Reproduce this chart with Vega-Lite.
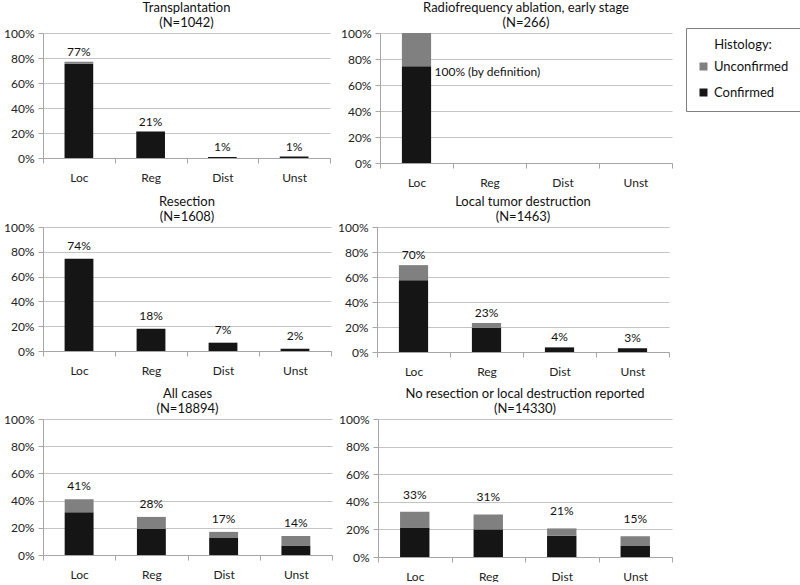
{
  "$schema": "https://vega.github.io/schema/vega-lite/v6.json",
  "padding": {"left": 0, "top": 2, "right": 0, "bottom": 0},
  "background": "white",
  "datasets": {
    "bars": [
      {"panel": "Transplantation", "stage": "Loc", "status": "Confirmed", "value": 75.5},
      {"panel": "Transplantation", "stage": "Loc", "status": "Unconfirmed", "value": 1.5},
      {"panel": "Transplantation", "stage": "Reg", "status": "Confirmed", "value": 21.2},
      {"panel": "Transplantation", "stage": "Dist", "status": "Confirmed", "value": 0.8},
      {"panel": "Transplantation", "stage": "Unst", "status": "Confirmed", "value": 1.2},
      {"panel": "RFA", "stage": "Loc", "status": "Confirmed", "value": 74.5},
      {"panel": "RFA", "stage": "Loc", "status": "Unconfirmed", "value": 25.5},
      {"panel": "Resection", "stage": "Loc", "status": "Confirmed", "value": 74.3},
      {"panel": "Resection", "stage": "Reg", "status": "Confirmed", "value": 18},
      {"panel": "Resection", "stage": "Dist", "status": "Confirmed", "value": 6.7},
      {"panel": "Resection", "stage": "Unst", "status": "Confirmed", "value": 1.9},
      {"panel": "Local", "stage": "Loc", "status": "Confirmed", "value": 57.5},
      {"panel": "Local", "stage": "Loc", "status": "Unconfirmed", "value": 12},
      {"panel": "Local", "stage": "Reg", "status": "Confirmed", "value": 19.5},
      {"panel": "Local", "stage": "Reg", "status": "Unconfirmed", "value": 3.7},
      {"panel": "Local", "stage": "Dist", "status": "Confirmed", "value": 3.7},
      {"panel": "Local", "stage": "Unst", "status": "Confirmed", "value": 3},
      {"panel": "All", "stage": "Loc", "status": "Confirmed", "value": 31.4},
      {"panel": "All", "stage": "Loc", "status": "Unconfirmed", "value": 9.6},
      {"panel": "All", "stage": "Reg", "status": "Confirmed", "value": 19.4},
      {"panel": "All", "stage": "Reg", "status": "Unconfirmed", "value": 8.6},
      {"panel": "All", "stage": "Dist", "status": "Confirmed", "value": 12.5},
      {"panel": "All", "stage": "Dist", "status": "Unconfirmed", "value": 4.5},
      {"panel": "All", "stage": "Unst", "status": "Confirmed", "value": 6.9},
      {"panel": "All", "stage": "Unst", "status": "Unconfirmed", "value": 7.1},
      {"panel": "None", "stage": "Loc", "status": "Confirmed", "value": 21.4},
      {"panel": "None", "stage": "Loc", "status": "Unconfirmed", "value": 11.4},
      {"panel": "None", "stage": "Reg", "status": "Confirmed", "value": 20},
      {"panel": "None", "stage": "Reg", "status": "Unconfirmed", "value": 10.8},
      {"panel": "None", "stage": "Dist", "status": "Confirmed", "value": 15.4},
      {"panel": "None", "stage": "Dist", "status": "Unconfirmed", "value": 5.3},
      {"panel": "None", "stage": "Unst", "status": "Confirmed", "value": 8},
      {"panel": "None", "stage": "Unst", "status": "Unconfirmed", "value": 7}
    ],
    "labels": [
      {"panel": "Transplantation", "stage": "Loc", "pct": 77, "label": "77%"},
      {"panel": "Transplantation", "stage": "Reg", "pct": 21.2, "label": "21%"},
      {"panel": "Transplantation", "stage": "Dist", "pct": 0.8, "label": "1%"},
      {"panel": "Transplantation", "stage": "Unst", "pct": 1.2, "label": "1%"},
      {"panel": "RFA", "stage": "Loc", "pct": 74.5, "label": "100% (by definition)"},
      {"panel": "Resection", "stage": "Loc", "pct": 74.3, "label": "74%"},
      {"panel": "Resection", "stage": "Reg", "pct": 18, "label": "18%"},
      {"panel": "Resection", "stage": "Dist", "pct": 6.7, "label": "7%"},
      {"panel": "Resection", "stage": "Unst", "pct": 1.9, "label": "2%"},
      {"panel": "Local", "stage": "Loc", "pct": 69.5, "label": "70%"},
      {"panel": "Local", "stage": "Reg", "pct": 23.2, "label": "23%"},
      {"panel": "Local", "stage": "Dist", "pct": 3.7, "label": "4%"},
      {"panel": "Local", "stage": "Unst", "pct": 3, "label": "3%"},
      {"panel": "All", "stage": "Loc", "pct": 41, "label": "41%"},
      {"panel": "All", "stage": "Reg", "pct": 28, "label": "28%"},
      {"panel": "All", "stage": "Dist", "pct": 17, "label": "17%"},
      {"panel": "All", "stage": "Unst", "pct": 14, "label": "14%"},
      {"panel": "None", "stage": "Loc", "pct": 32.8, "label": "33%"},
      {"panel": "None", "stage": "Reg", "pct": 30.8, "label": "31%"},
      {"panel": "None", "stage": "Dist", "pct": 20.7, "label": "21%"},
      {"panel": "None", "stage": "Unst", "pct": 15, "label": "15%"}
    ]
  },
  "config": {
    "font": "Lato",
    "view": {"stroke": null},
    "title": {"fontSize": 13, "fontWeight": "normal", "color": "#111111", "lineHeight": 15, "offset": -3, "font": "Lato"},
    "axis": {"labelFont": "Lato", "labelFontSize": 12, "labelColor": "#222222", "domainColor": "#a6a6a6", "tickColor": "#a6a6a6", "gridColor": "#c4c4c4"},
    "axisX": {"tickBand": "extent", "tickSize": 5, "labelPadding": 9, "labelAngle": 0, "grid": false},
    "axisY": {"tickSize": 5, "labelPadding": 4, "values": [0, 20, 40, 60, 80, 100], "labelExpr": "datum.value + '%'", "grid": true},
    "text": {"font": "Lato", "fontSize": 12, "color": "#111111"},
    "legend": {
      "orient": "none", "legendX": 643, "legendY": -5,
      "strokeColor": "#7f7f7f", "padding": 11, "titleAnchor": "middle",
      "titleFontSize": 13, "titleFontWeight": "normal", "titleColor": "#111111", "titleFont": "Lato",
      "labelFontSize": 13, "labelColor": "#111111", "labelFont": "Lato",
      "symbolType": "square", "symbolSize": 64, "symbolStrokeWidth": 0, "rowPadding": 12, "titlePadding": 8
    }
  },
  "spacing": 8,
  "vconcat": [
    {
      "spacing": 9,
      "hconcat": [
        {
          "title": {"text": ["Transplantation", "(N=1042)"]},
          "width": 287, "height": 125,
          "layer": [
            {
              "data": {"name": "bars"},
              "transform": [{"filter": "datum.panel === 'Transplantation'"}],
              "mark": {"type": "bar", "width": {"band": 0.4}},
              "encoding": {
                "x": {"field": "stage", "type": "nominal", "title": null, "scale": {"domain": ["Loc", "Reg", "Dist", "Unst"], "paddingInner": 0, "paddingOuter": 0}},
                "y": {"field": "value", "type": "quantitative", "stack": "zero", "title": null, "scale": {"domain": [0, 100]}, "axis": {"minExtent": 40}},
                "color": {"field": "status", "type": "nominal", "title": "Histology:", "scale": {"domain": ["Unconfirmed", "Confirmed"], "range": ["#808080", "#151515"]}},
                "order": {"field": "status", "sort": "ascending"}
              }
            },
            {
              "data": {"name": "labels"},
              "transform": [{"filter": "datum.panel === 'Transplantation'"}],
              "mark": {"type": "text", "baseline": "bottom", "dy": -3},
              "encoding": {
                "x": {"field": "stage", "type": "nominal", "title": null, "scale": {"domain": ["Loc", "Reg", "Dist", "Unst"], "paddingInner": 0, "paddingOuter": 0}},
                "y": {"field": "pct", "type": "quantitative", "title": null},
                "text": {"field": "label"}
              }
            }
          ]
        },
        {
          "title": {"text": ["Radiofrequency ablation, early stage", "(N=266)"]},
          "width": 292, "height": 130,
          "layer": [
            {
              "data": {"name": "bars"},
              "transform": [{"filter": "datum.panel === 'RFA'"}],
              "mark": {"type": "bar", "width": {"band": 0.4}},
              "encoding": {
                "x": {"field": "stage", "type": "nominal", "title": null, "scale": {"domain": ["Loc", "Reg", "Dist", "Unst"], "paddingInner": 0, "paddingOuter": 0}},
                "y": {"field": "value", "type": "quantitative", "stack": "zero", "title": null, "scale": {"domain": [0, 100]}, "axis": {"minExtent": 36}},
                "color": {"field": "status", "type": "nominal", "title": "Histology:"},
                "order": {"field": "status", "sort": "ascending"}
              }
            },
            {
              "data": {"name": "labels"},
              "transform": [{"filter": "datum.panel === 'RFA'"}],
              "mark": {"type": "text", "baseline": "top", "align": "left", "dx": 18, "dy": 1},
              "encoding": {
                "x": {"field": "stage", "type": "nominal", "title": null, "scale": {"domain": ["Loc", "Reg", "Dist", "Unst"], "paddingInner": 0, "paddingOuter": 0}},
                "y": {"field": "pct", "type": "quantitative", "title": null},
                "text": {"field": "label"}
              }
            }
          ]
        }
      ]
    },
    {
      "spacing": 11,
      "vconcat": [
        {
          "spacing": 5,
          "hconcat": [
            {
              "title": {"text": ["Resection", "(N=1608)"]},
              "width": 288, "height": 124,
              "layer": [
                {
                  "data": {"name": "bars"},
                  "transform": [{"filter": "datum.panel === 'Resection'"}],
                  "mark": {"type": "bar", "width": {"band": 0.4}},
                  "encoding": {
                    "x": {"field": "stage", "type": "nominal", "title": null, "scale": {"domain": ["Loc", "Reg", "Dist", "Unst"], "paddingInner": 0, "paddingOuter": 0}},
                    "y": {"field": "value", "type": "quantitative", "stack": "zero", "title": null, "scale": {"domain": [0, 100]}, "axis": {"minExtent": 43}},
                    "color": {"field": "status", "type": "nominal", "title": "Histology:"},
                    "order": {"field": "status", "sort": "ascending"}
                  }
                },
                {
                  "data": {"name": "labels"},
                  "transform": [{"filter": "datum.panel === 'Resection'"}],
                  "mark": {"type": "text", "baseline": "bottom", "dy": -6},
                  "encoding": {
                    "x": {"field": "stage", "type": "nominal", "title": null, "scale": {"domain": ["Loc", "Reg", "Dist", "Unst"], "paddingInner": 0, "paddingOuter": 0}},
                    "y": {"field": "pct", "type": "quantitative", "title": null},
                    "text": {"field": "label"}
                  }
                }
              ]
            },
            {
              "title": {"text": ["Local tumor destruction", "(N=1463)"]},
              "width": 292, "height": 125,
              "layer": [
                {
                  "data": {"name": "bars"},
                  "transform": [{"filter": "datum.panel === 'Local'"}],
                  "mark": {"type": "bar", "width": {"band": 0.4}},
                  "encoding": {
                    "x": {"field": "stage", "type": "nominal", "title": null, "scale": {"domain": ["Loc", "Reg", "Dist", "Unst"], "paddingInner": 0, "paddingOuter": 0}},
                    "y": {"field": "value", "type": "quantitative", "stack": "zero", "title": null, "scale": {"domain": [0, 100]}, "axis": {"minExtent": 36}},
                    "color": {"field": "status", "type": "nominal", "title": "Histology:"},
                    "order": {"field": "status", "sort": "ascending"}
                  }
                },
                {
                  "data": {"name": "labels"},
                  "transform": [{"filter": "datum.panel === 'Local'"}],
                  "mark": {"type": "text", "baseline": "bottom", "dy": -3},
                  "encoding": {
                    "x": {"field": "stage", "type": "nominal", "title": null, "scale": {"domain": ["Loc", "Reg", "Dist", "Unst"], "paddingInner": 0, "paddingOuter": 0}},
                    "y": {"field": "pct", "type": "quantitative", "title": null},
                    "text": {"field": "label"}
                  }
                }
              ]
            }
          ]
        },
        {
          "spacing": 5,
          "hconcat": [
            {
              "title": {"text": ["All cases", "(N=18894)"]},
              "width": 289, "height": 136,
              "layer": [
                {
                  "data": {"name": "bars"},
                  "transform": [{"filter": "datum.panel === 'All'"}],
                  "mark": {"type": "bar", "width": {"band": 0.4}},
                  "encoding": {
                    "x": {"field": "stage", "type": "nominal", "title": null, "scale": {"domain": ["Loc", "Reg", "Dist", "Unst"], "paddingInner": 0, "paddingOuter": 0}},
                    "y": {"field": "value", "type": "quantitative", "stack": "zero", "title": null, "scale": {"domain": [0, 100]}, "axis": {"minExtent": 36}},
                    "color": {"field": "status", "type": "nominal", "title": "Histology:"},
                    "order": {"field": "status", "sort": "ascending"}
                  }
                },
                {
                  "data": {"name": "labels"},
                  "transform": [{"filter": "datum.panel === 'All'"}],
                  "mark": {"type": "text", "baseline": "bottom", "dy": -6},
                  "encoding": {
                    "x": {"field": "stage", "type": "nominal", "title": null, "scale": {"domain": ["Loc", "Reg", "Dist", "Unst"], "paddingInner": 0, "paddingOuter": 0}},
                    "y": {"field": "pct", "type": "quantitative", "title": null},
                    "text": {"field": "label"}
                  }
                }
              ]
            },
            {
              "title": {"text": ["No resection or local destruction reported", "(N=14330)"]},
              "width": 294, "height": 138,
              "layer": [
                {
                  "data": {"name": "bars"},
                  "transform": [{"filter": "datum.panel === 'None'"}],
                  "mark": {"type": "bar", "width": {"band": 0.4}},
                  "encoding": {
                    "x": {"field": "stage", "type": "nominal", "title": null, "scale": {"domain": ["Loc", "Reg", "Dist", "Unst"], "paddingInner": 0, "paddingOuter": 0}},
                    "y": {"field": "value", "type": "quantitative", "stack": "zero", "title": null, "scale": {"domain": [0, 100]}, "axis": {"minExtent": 36}},
                    "color": {"field": "status", "type": "nominal", "title": "Histology:"},
                    "order": {"field": "status", "sort": "ascending"}
                  }
                },
                {
                  "data": {"name": "labels"},
                  "transform": [{"filter": "datum.panel === 'None'"}],
                  "mark": {"type": "text", "baseline": "bottom", "dy": -10},
                  "encoding": {
                    "x": {"field": "stage", "type": "nominal", "title": null, "scale": {"domain": ["Loc", "Reg", "Dist", "Unst"], "paddingInner": 0, "paddingOuter": 0}},
                    "y": {"field": "pct", "type": "quantitative", "title": null},
                    "text": {"field": "label"}
                  }
                }
              ]
            }
          ]
        }
      ]
    }
  ]
}
